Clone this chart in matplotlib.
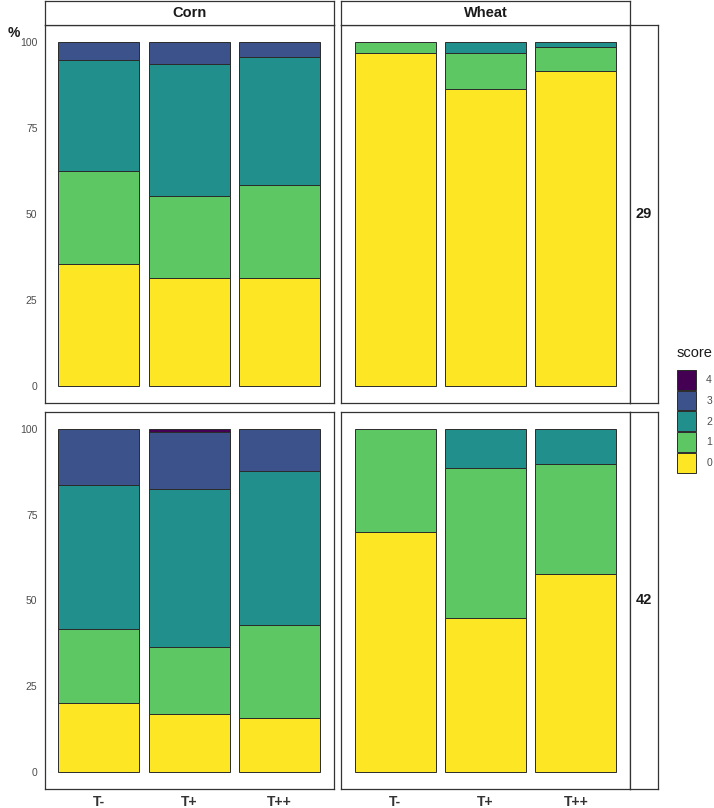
import matplotlib.pyplot as plt
from matplotlib.patches import Patch

plt.rcParams['font.family'] = ['Liberation Sans', 'DejaVu Sans']

treatments = ["T-", "T+", "T++"]
crops = ["Corn", "Wheat"]
days = ["29", "42"]
scores = ["0", "1", "2", "3", "4"]
score_colors = ["#FDE725", "#5DC863", "#21908C", "#3B528B", "#440154"]

# percentages per score (0..4), one value per treatment
corn_29 = [[35.5, 31.3, 31.3], [27.0, 23.8, 27.1], [32.2, 38.5, 37.3], [5.3, 6.4, 4.3], [0, 0, 0]]
wheat_29 = [[96.8, 86.4, 91.5], [3.2, 10.4, 7.2], [0, 3.2, 1.3], [0, 0, 0], [0, 0, 0]]
corn_42 = [[20.0, 16.8, 15.7], [21.8, 19.7, 27.1], [41.8, 46.0, 44.9], [16.4, 16.7, 12.3], [0, 0.8, 0]]
wheat_42 = [[70.0, 44.9, 57.6], [30.0, 43.8, 32.2], [0, 11.3, 10.2], [0, 0, 0], [0, 0, 0]]

panels = {("29", "Corn"): corn_29, ("29", "Wheat"): wheat_29,
          ("42", "Corn"): corn_42, ("42", "Wheat"): wheat_42}

W, H = 714, 808
fig = plt.figure(figsize=(W / 100, H / 100), dpi=100)

def box(x0, y0, x1, y1):
    # pixel box (from top-left) -> figure rect
    return [x0 / W, 1 - y1 / H, (x1 - x0) / W, (y1 - y0) / H]

border = "#333333"
col_x = [(44.5, 334), (341, 630)]
row_y = [(25, 403), (412, 789)]

for r, day in enumerate(days):
    for c, crop in enumerate(crops):
        x0, x1 = col_x[c]
        y0, y1 = row_y[r]
        ax = fig.add_axes(box(x0, y0, x1, y1))
        data = panels[(day, crop)]
        bottoms = [0, 0, 0]
        for s in range(len(scores)):
            for i, t in enumerate(treatments):
                v = data[s][i]
                if v > 0:
                    ax.bar(i, v, width=0.9, bottom=bottoms[i], color=score_colors[s],
                           edgecolor="#2b2b2b", linewidth=0.7)
                bottoms[i] += v
        ax.set_xlim(-0.6, 2.6)
        ax.set_ylim(-5, 105)
        ax.set_yticks([0, 25, 50, 75, 100])
        ax.set_xticks(range(len(treatments)))
        ax.tick_params(length=0)
        for sp in ax.spines.values():
            sp.set_color(border)
            sp.set_linewidth(0.9)
        if c == 0:
            ax.set_yticklabels(["0", "25", "50", "75", "100"], fontsize=7.5, color="#4D4D4D")
            ax.tick_params(axis="y", pad=5)
        else:
            ax.set_yticklabels([])
        if r == 1:
            ax.set_xticklabels(treatments, fontsize=10, fontweight="bold", color="#333333")
            ax.tick_params(axis="x", pad=4)
        else:
            ax.set_xticklabels([])

        if r == 0:
            st = fig.add_axes(box(x0, 1, x1, 25))
            st.set_xticks([])
            st.set_yticks([])
            for sp in st.spines.values():
                sp.set_color(border)
                sp.set_linewidth(0.9)
            st.text(0.5, 0.5, crop, ha="center", va="center", fontsize=10.5,
                    fontweight="bold", color="#1a1a1a", transform=st.transAxes)
        if c == 1:
            st = fig.add_axes(box(630, y0, 657.5, y1))
            st.set_xticks([])
            st.set_yticks([])
            for sp in st.spines.values():
                sp.set_color(border)
                sp.set_linewidth(0.9)
            st.text(0.5, 0.5, day, ha="center", va="center", fontsize=10.5,
                    fontweight="bold", color="#1a1a1a", transform=st.transAxes)

fig.text(8 / W, 1 - 33 / H, "%", fontsize=10, fontweight="bold", color="#1a1a1a",
         ha="left", va="center")

handles = [Patch(facecolor=score_colors[s], edgecolor="#2b2b2b", linewidth=0.7)
           for s in range(len(scores) - 1, -1, -1)]
labels = [scores[s] for s in range(len(scores) - 1, -1, -1)]
leg = fig.legend(handles, labels, loc="upper left", bbox_to_anchor=(677 / W, 1 - 346 / H),
                 frameon=False, title="score", fontsize=7.5, title_fontsize=10.5,
                 handlelength=1.8, handleheight=2.55, labelspacing=0.1,
                 handletextpad=1.0, borderpad=0, borderaxespad=0)
leg._legend_box.align = "left"
leg._legend_box.sep = 7
for t in leg.get_texts():
    t.set_color("#4D4D4D")
leg.get_title().set_color("#1a1a1a")

fig.savefig("out.png", dpi=100)
